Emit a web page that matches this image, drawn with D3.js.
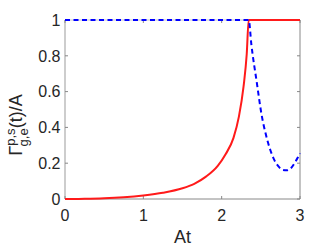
<!DOCTYPE html>
<html>
<head>
<meta charset="utf-8">
<script src="https://cdn.jsdelivr.net/npm/d3@7"></script>
<style>
body { margin: 0; background: #fff; }
svg { font-family: "Liberation Sans", Arial, sans-serif; }
</style>
</head>
<body>
<script>
// red (solid) curve
var redT = [0, 0.25, 0.5, 0.75, 1.0, 1.25, 1.5, 1.65, 1.8, 1.95, 2.05, 2.15, 2.22, 2.28, 2.32, 2.345, 3.0];
var redY = [0, 0.001, 0.004, 0.01, 0.02, 0.035, 0.06, 0.085, 0.125, 0.185, 0.25, 0.34, 0.46, 0.63, 0.81, 1.0, 1.0];
// blue (dashed) curve
var blueT = [0, 2.345, 2.38, 2.45, 2.51, 2.57, 2.62, 2.67, 2.72, 2.78, 2.83, 2.88, 2.93, 2.97, 3.0];
var blueY = [1, 1, 0.86, 0.646, 0.47, 0.35, 0.275, 0.22, 0.185, 0.163, 0.16, 0.17, 0.2, 0.23, 0.255];
var xTicks = [0, 1, 2, 3];
var yTicks = [0, 0.2, 0.4, 0.6, 0.8, 1];

var margin = {top: 20, right: 32, bottom: 48, left: 65},
    width = 332 - margin.left - margin.right,
    height = 247 - margin.top - margin.bottom;

var svg = d3.select("body").append("svg")
    .attr("width", 332)
    .attr("height", 247);
var g = svg.append("g")
    .attr("transform", "translate(" + margin.left + "," + margin.top + ")");

var x = d3.scaleLinear().domain([0, 3]).range([0, width]);
var y = d3.scaleLinear().domain([0, 1]).range([height, 0]);

g.append("clipPath").attr("id", "clip")
  .append("rect").attr("y", -3).attr("width", width).attr("height", height + 6);

// box
g.append("line").attr("x1", 0).attr("x2", width).attr("y1", 0).attr("y2", 0)
  .attr("stroke", "#c8c8c8");
g.append("line").attr("x1", 0).attr("x2", 0).attr("y1", 0).attr("y2", height)
  .attr("stroke", "#bdbdbd").attr("stroke-width", 1.5);
g.append("line").attr("x1", width).attr("x2", width).attr("y1", 0).attr("y2", height)
  .attr("stroke", "#888");
g.append("line").attr("x1", 0).attr("x2", width).attr("y1", height).attr("y2", height)
  .attr("stroke", "#888");

// ticks inside, both sides
xTicks.forEach(function(t) {
  g.append("line").attr("x1", x(t)).attr("x2", x(t)).attr("y1", height).attr("y2", height - 3).attr("stroke", "#888");
  g.append("line").attr("x1", x(t)).attr("x2", x(t)).attr("y1", 0).attr("y2", 3).attr("stroke", "#888");
  g.append("text").attr("x", x(t)).attr("y", height + 22)
    .attr("text-anchor", "middle").attr("font-size", 16).attr("fill", "#262626").text(t);
});
yTicks.forEach(function(t) {
  g.append("line").attr("x1", 0).attr("x2", 3).attr("y1", y(t)).attr("y2", y(t)).attr("stroke", "#888");
  g.append("line").attr("x1", width).attr("x2", width - 3).attr("y1", y(t)).attr("y2", y(t)).attr("stroke", "#888");
  g.append("text").attr("x", -4.5).attr("y", y(t) + 5.7)
    .attr("text-anchor", "end").attr("font-size", 16).attr("fill", "#262626").text(t);
});

var line = d3.line().x(function(d) { return x(d[0]); }).y(function(d) { return y(d[1]); })
  .curve(d3.curveMonotoneX);

g.append("path").datum(redT.map(function(t, i) { return [t, redY[i]]; }))
  .attr("d", line).attr("fill", "none").attr("stroke", "#ff1a1a").attr("stroke-width", 2)
  .attr("clip-path", "url(#clip)");
g.append("path").datum(blueT.map(function(t, i) { return [t, blueY[i]]; }))
  .attr("d", line).attr("fill", "none").attr("stroke", "#0000ff").attr("stroke-width", 2)
  .attr("stroke-dasharray", "5,3.5");

// axis labels
g.append("text").attr("x", width / 2).attr("y", height + 44)
  .attr("text-anchor", "middle").attr("font-size", 18).attr("fill", "#262626").text("At");

var yl = svg.append("text").attr("transform", "translate(22,125) rotate(-90)")
  .attr("text-anchor", "middle").attr("font-size", 18).attr("fill", "#262626");
yl.append("tspan").text("Γ");
yl.append("tspan").attr("dy", -7).attr("font-size", 13).text("p,s");
yl.append("tspan").attr("dx", -18).attr("dy", 13).attr("font-size", 13).text("g,e");
yl.append("tspan").attr("dy", -6).text("(t)/A");
</script>
</body>
</html>
